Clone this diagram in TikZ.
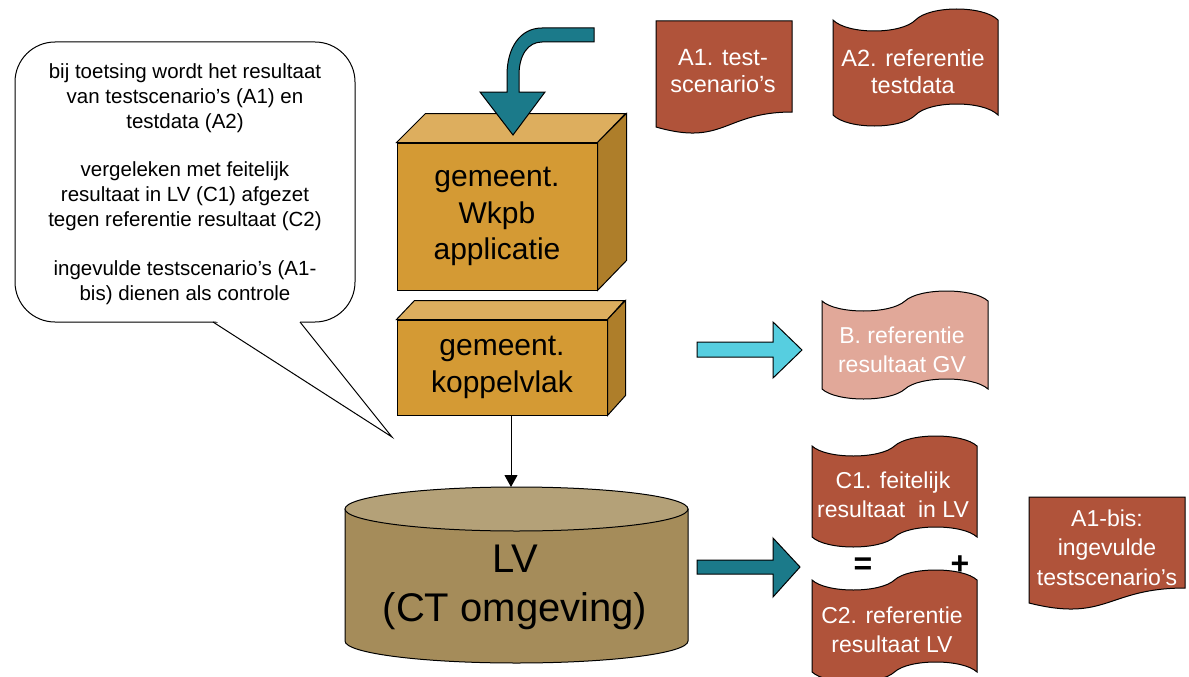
\documentclass[tikz,border=0pt]{standalone}
\usepackage{fontspec}
\setmainfont{Liberation Sans}
\usetikzlibrary{arrows.meta}

\definecolor{tealarrow}{RGB}{27,122,138}
\definecolor{lightarrow}{RGB}{86,206,224}
\definecolor{docred}{RGB}{176,83,58}
\definecolor{docpink}{RGB}{225,168,153}
\definecolor{boxfront}{RGB}{212,154,52}
\definecolor{boxtop}{RGB}{221,174,94}
\definecolor{boxside}{RGB}{174,126,42}
\definecolor{lvbody}{RGB}{165,140,90}
\definecolor{lvtop}{RGB}{180,161,120}

\tikzset{
  outline/.style={draw=black, line width=1pt},
  front/.style={outline, fill=boxfront, inner sep=0pt, align=center,
    font=\fontsize{30}{36.5}\selectfont},
  bubbletext/.style={align=center, font=\fontsize{20.5}{24.8}\selectfont},
  doctext/.style={text=white, align=center, font=\fontsize{23}{29.5}\selectfont},
  toptext/.style={text=white, align=center, font=\fontsize{23.5}{27}\selectfont},
  sign/.style={font=\fontsize{32}{38}\selectfont\bfseries},
}

% wave shaped sheet: fill, x left, x right, y top, y bottom, amplitude
\newcommand{\wavedoc}[6]{%
  \pgfmathsetmacro{\wm}{(#2+#3)/2}%
  \pgfmathsetmacro{\wc}{0.35*(#3-#2)/4}%
  \pgfmathsetmacro{\wh}{4*#6/3}%
  \filldraw[outline, fill=#1] (#2,#4) .. controls +(\wc,\wh) and +(-\wc,\wh) .. (\wm,#4)
    .. controls +(\wc,-\wh) and +(-\wc,-\wh) .. (#3,#4)
    -- (#3,#5) .. controls +(-\wc,-\wh) and +(\wc,-\wh) .. (\wm,#5)
    .. controls +(-\wc,\wh) and +(\wc,\wh) .. (#2,#5) -- cycle;}

% document sheet: fill, x left, x right, y top, height
\newcommand{\docshape}[5]{%
  \pgfmathsetmacro{\dm}{(#2+#3)/2}%
  \pgfmathsetmacro{\dr}{#4+0.802*#5}%
  \pgfmathsetmacro{\dl}{#4+0.934*#5}%
  \pgfmathsetmacro{\dc}{#4+1.107*#5}%
  \filldraw[outline, fill=#1] (#2,#4) -- (#3,#4) -- (#3,\dr)
    .. controls (\dm,\dr) and (\dm,\dc) .. (#2,\dl) -- cycle;}

\begin{document}
\begin{tikzpicture}[x=1pt, y=-1pt]
  \useasboundingbox (0,0) rectangle (1189,677);

  % callout
  \filldraw[outline, fill=white, rounded corners=40pt] (15,42) rectangle (355,322);
  \fill[white] (214,320) -- (392,437) -- (299,320) -- cycle;
  \draw[line width=1pt] (213,322) -- (392,437) -- (300,322);
  \node[bubbletext] (note) at (185,184) {bij toetsing wordt het resultaat\\van testscenario’s (A1) en\\testdata (A2)\\[24pt]vergeleken met feitelijk\\resultaat in LV (C1) afgezet\\tegen referentie resultaat (C2)\\[24pt]ingevulde testscenario’s (A1-\\bis) dienen als controle};

  % boxes
  \node[front, minimum width=200pt, minimum height=147pt] (wkpb) at (497,216.5) {gemeent.\\Wkpb\\applicatie};
  \filldraw[outline, fill=boxtop] (wkpb.north west) -- ++(29,-29) -- ++(200,0) -- (wkpb.north east) -- cycle;
  \filldraw[outline, fill=boxside] (wkpb.north east) -- ++(29,-29) -- ++(0,147) -- (wkpb.south east) -- cycle;

  \node[front, minimum width=210pt, minimum height=95pt] (koppel) at (502,367.5) {gemeent.\\koppelvlak};
  \filldraw[outline, fill=boxtop] (koppel.north west) -- ++(18,-19) -- ++(210,0) -- (koppel.north east) -- cycle;
  \filldraw[outline, fill=boxside] (koppel.north east) -- ++(18,-19) -- ++(0,95) -- (koppel.south east) -- cycle;

  % curved arrow into the application
  \filldraw[outline, fill=tealarrow] (594,28) -- (542,28) .. controls (520,28) and (507,48) .. (507,75)
    -- (507,92) -- (480,92) -- (513,135) -- (545,92) -- (519,92) -- (519,75)
    .. controls (519,55) and (528,42) .. (542,42) -- (594,42) -- cycle;

  % LV database
  \filldraw[outline, fill=lvbody] (345,509) -- (345,641) .. controls (345,653.2) and (421.8,663) .. (516.5,663)
    .. controls (611.2,663) and (688,653.2) .. (688,641) -- (688,509) -- cycle;
  \filldraw[outline, fill=lvtop] (516.5,509) ellipse [x radius=171.5pt, y radius=22pt];
  \coordinate (lvin) at (511,487);
  \node[align=center, font=\fontsize{40}{49}\selectfont] (lv) at (515,587.5) {LV\\(CT omgeving)};

  \draw[-{Triangle[length=12pt,width=13pt]}, line width=1pt] (koppel.south -| lvin) -- (lvin);

  % block arrows
  \filldraw[outline, fill=lightarrow] (697,342) -- (773,342) -- (773,322) -- (802,350) -- (773,378) -- (773,357) -- (697,357) -- cycle;
  \filldraw[outline, fill=tealarrow] (697,560) -- (773,560) -- (773,538) -- (800,567) -- (773,597) -- (773,574) -- (697,574) -- cycle;

  % sheets
  \docshape{docred}{656}{792}{21}{113.5}
  \wavedoc{docred}{833}{998}{20}{115}{11}
  \wavedoc{docpink}{822}{988}{301}{389}{10}
  \wavedoc{docred}{812}{977}{446}{537}{10}
  \wavedoc{docred}{812}{977}{580}{672}{10}
  \docshape{docred}{1029}{1185}{497}{113.5}

  \node[toptext] (a1) at (723,71.5) {A1. test-\\scenario’s};
  \node[toptext] (a2) at (913,71.5) {A2. referentie\\testdata};
  \node[doctext] (b) at (902,350) {B. referentie\\resultaat GV};
  \node[doctext] (c1) at (893,495) {C1. feitelijk\\resultaat~ in LV};
  \node[doctext] (c2) at (892,630) {C2. referentie\\resultaat LV};
  \node[doctext] (a1bis) at (1107,547.5) {A1-bis:\\ingevulde\\testscenario’s};

  \node[sign] (eq) at (863,566) {=};
  \node[sign] (plus) at (960,565) {+};
\end{tikzpicture}
\end{document}
